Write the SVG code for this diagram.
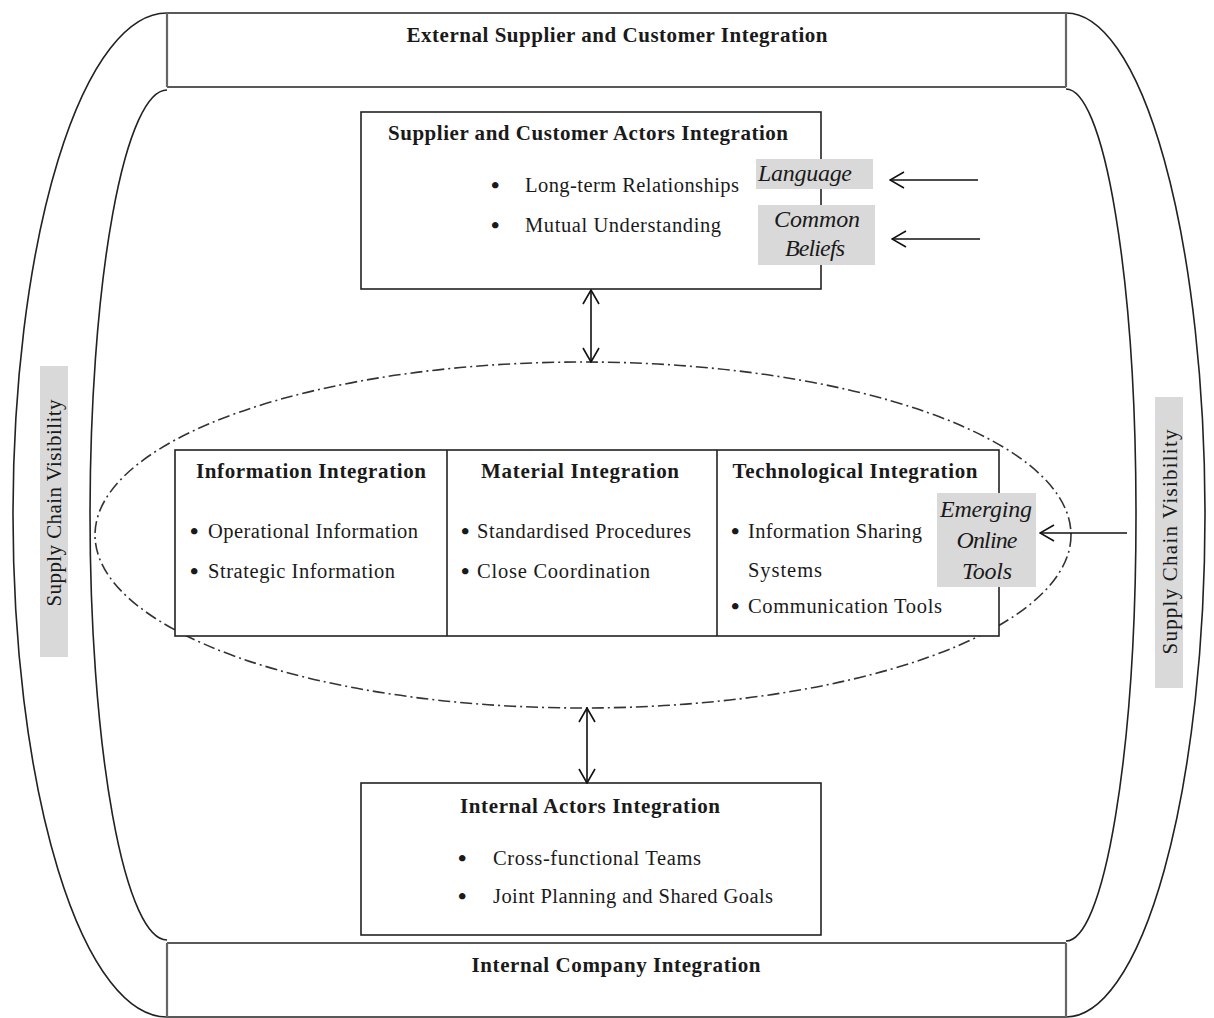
<svg xmlns="http://www.w3.org/2000/svg" width="1214" height="1018" viewBox="0 0 1214 1018">
  <style>
    .frame { fill: none; stroke: #222; stroke-width: 1.6; }
    .edge { fill: none; stroke: #666; stroke-width: 2.2; }
    .box { fill: #fff; stroke: #222; stroke-width: 1.6; }
    .tag { fill: #d9d9d9; stroke: none; }
    .ring { fill: none; stroke: #333; stroke-width: 1.6; stroke-dasharray: 12 4 2 4; }
    .link { fill: none; stroke: #111; stroke-width: 1.6; }
    text { font-family: "Liberation Serif", "Times New Roman", serif; fill: #1a1a1a; }
    .title { font-weight: bold; font-size: 21px; }
    .item { font-size: 20.5px; }
    .dot { font-size: 24px; font-weight: bold; }
    .note { font-style: italic; font-size: 24px; }
    .vis { font-size: 21px; }
  </style>
  <defs>
    <marker id="open" viewBox="0 0 16 18" refX="15" refY="9" markerWidth="16" markerHeight="18" markerUnits="userSpaceOnUse" orient="auto-start-reverse">
      <path d="M1,1 L15,9 L1,17" fill="none" stroke="#111" stroke-width="1.6"/>
    </marker>
  </defs>

  <!-- outer frame: curved sides -->
  <g id="frame">
    <path class="frame" d="M167,13 A154,502 0 0 0 167,1017"/>
    <path class="frame" d="M167,90 A77,425 0 0 0 167,940"/>
    <path class="frame" d="M1066,13 A139,502 0 0 1 1066,1017"/>
    <path class="frame" d="M1066,89 A70,426 0 0 1 1066,941"/>
  </g>

  <g id="external-band">
    <line class="frame" x1="167" y1="13" x2="1066" y2="13"/>
    <line class="frame" x1="167" y1="87" x2="1066" y2="87"/>
    <line class="edge" x1="167" y1="13" x2="167" y2="87"/>
    <line class="edge" x1="1066" y1="13" x2="1066" y2="87"/>
    <text class="title" x="617" y="42" text-anchor="middle" textLength="421">External Supplier and Customer Integration</text>
  </g>

  <g id="internal-band">
    <line class="frame" x1="167" y1="943" x2="1066" y2="943"/>
    <line class="frame" x1="167" y1="1017" x2="1066" y2="1017"/>
    <line class="edge" x1="167" y1="943" x2="167" y2="1017"/>
    <line class="edge" x1="1066" y1="943" x2="1066" y2="1017"/>
    <text class="title" x="616" y="972" text-anchor="middle" textLength="289">Internal Company Integration</text>
  </g>

  <g id="visibility-left">
    <rect class="tag" x="40" y="366" width="28" height="291"/>
    <text class="vis" transform="translate(61,503) rotate(-90)" text-anchor="middle" textLength="207">Supply Chain Visibility</text>
  </g>

  <g id="visibility-right">
    <rect class="tag" x="1155" y="397" width="28" height="291"/>
    <text class="vis" transform="translate(1177,542) rotate(-90)" text-anchor="middle" textLength="225">Supply Chain Visibility</text>
  </g>

  <!-- dash-dot envelope around the three integration columns -->
  <g id="core-envelope">
    <ellipse class="ring" cx="583" cy="535" rx="488" ry="173"/>
  </g>

  <g id="supplier-customer">
    <rect class="box" x="361" y="112" width="460" height="177"/>
    <text class="title" x="588" y="140" text-anchor="middle" textLength="400">Supplier and Customer Actors Integration</text>
    <text class="dot" x="491" y="193">•</text>
    <text class="item" x="525" y="192" textLength="214">Long-term Relationships</text>
    <text class="dot" x="491" y="233">•</text>
    <text class="item" x="525" y="232" textLength="196">Mutual Understanding</text>
  </g>

  <g id="language">
    <rect class="tag" x="756" y="159" width="117" height="30"/>
    <text class="note" x="758" y="181" textLength="94">Language</text>
  </g>

  <g id="common-beliefs">
    <rect class="tag" x="758" y="205" width="117" height="60"/>
    <text class="note" x="817" y="227" text-anchor="middle" textLength="86">Common</text>
    <text class="note" x="815" y="256" text-anchor="middle" textLength="60">Beliefs</text>
  </g>

  <g id="integration-columns">
    <rect class="box" x="175" y="450" width="824" height="186"/>
    <line class="frame" x1="447" y1="450" x2="447" y2="636"/>
    <line class="frame" x1="717" y1="450" x2="717" y2="636"/>
  </g>

  <g id="information-integration">
    <text class="title" x="311" y="478" text-anchor="middle" textLength="230">Information Integration</text>
    <text class="dot" x="190" y="539">•</text>
    <text class="item" x="208" y="538" textLength="210">Operational Information</text>
    <text class="dot" x="190" y="579">•</text>
    <text class="item" x="208" y="578" textLength="187">Strategic Information</text>
  </g>

  <g id="material-integration">
    <text class="title" x="580" y="478" text-anchor="middle" textLength="198">Material Integration</text>
    <text class="dot" x="461" y="539">•</text>
    <text class="item" x="477" y="538" textLength="214">Standardised Procedures</text>
    <text class="dot" x="461" y="579">•</text>
    <text class="item" x="477" y="578" textLength="173">Close Coordination</text>
  </g>

  <g id="technological-integration">
    <text class="title" x="855" y="478" text-anchor="middle" textLength="245">Technological Integration</text>
    <text class="dot" x="731" y="539">•</text>
    <text class="item" x="748" y="538" textLength="174">Information Sharing</text>
    <text class="item" x="748" y="577" textLength="74">Systems</text>
    <text class="dot" x="731" y="614">•</text>
    <text class="item" x="748" y="613" textLength="194">Communication Tools</text>
  </g>

  <g id="emerging-online-tools">
    <rect class="tag" x="937" y="493" width="99" height="94"/>
    <text class="note" x="986" y="517" text-anchor="middle" textLength="92">Emerging</text>
    <text class="note" x="987" y="548" text-anchor="middle" textLength="61">Online</text>
    <text class="note" x="987" y="579" text-anchor="middle" textLength="50">Tools</text>
  </g>

  <g id="internal-actors">
    <rect class="box" x="361" y="783" width="460" height="152"/>
    <text class="title" x="590" y="813" text-anchor="middle" textLength="260">Internal Actors Integration</text>
    <text class="dot" x="458" y="866">•</text>
    <text class="item" x="493" y="865" textLength="208">Cross-functional Teams</text>
    <text class="dot" x="458" y="904">•</text>
    <text class="item" x="493" y="903" textLength="280">Joint Planning and Shared Goals</text>
  </g>

  <g id="connectors">
    <line class="link" x1="978" y1="180" x2="890" y2="180" marker-end="url(#open)"/>
    <line class="link" x1="980" y1="239" x2="892" y2="239" marker-end="url(#open)"/>
    <line class="link" x1="1127" y1="533" x2="1040" y2="533" marker-end="url(#open)"/>
    <line class="link" x1="591" y1="290" x2="591" y2="362" marker-start="url(#open)" marker-end="url(#open)"/>
    <line class="link" x1="587" y1="708" x2="587" y2="783" marker-start="url(#open)" marker-end="url(#open)"/>
  </g>
</svg>
